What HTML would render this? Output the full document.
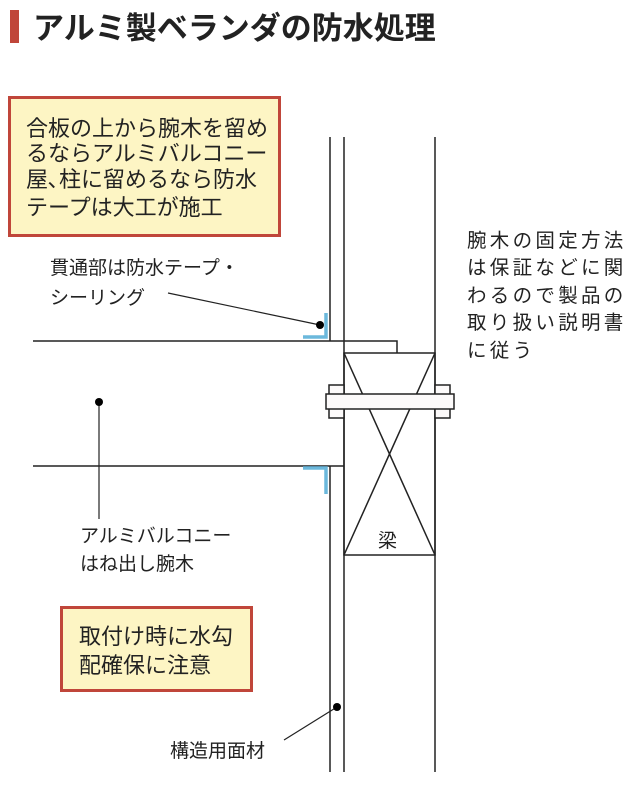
<!DOCTYPE html>
<html><head><meta charset="utf-8"><style>
body{margin:0;background:#fff;}
svg text{font-family:"Liberation Sans","Noto Sans CJK JP",sans-serif;fill:#222;}
</style></head><body>
<svg width="640" height="781" viewBox="0 0 640 781" xmlns="http://www.w3.org/2000/svg">
<rect x="10" y="10" width="9" height="33" fill="#c0463a"/>
<text x="33" y="39" font-size="31" font-weight="bold" fill="#222">アルミ製ベランダの防水処理</text>

<rect x="9.5" y="97.5" width="270" height="138" fill="#fdf5c4" stroke="#c0463a" stroke-width="3"/>
<g font-size="22">
<text x="26" y="136">合板の上から腕木を留め</text>
<text x="26" y="161">るならアルミバルコニー</text>
<text x="26" y="187">屋､柱に留めるなら防水</text>
<text x="26" y="215">テープは大工が施工</text>
</g>

<g stroke="#222" stroke-width="1.5" fill="none">
<line x1="330" y1="137" x2="330" y2="341"/>
<line x1="330" y1="466" x2="330" y2="772"/>
<line x1="344" y1="137" x2="344" y2="772"/>
<line x1="435" y1="137" x2="435" y2="772"/>
<polyline points="33,341 397,341 397,353"/>
<line x1="33" y1="466" x2="344" y2="466"/>
<rect x="344" y="353" width="91" height="202"/>
<line x1="344" y1="353" x2="435" y2="555"/>
<line x1="435" y1="353" x2="344" y2="555"/>
</g>
<g stroke="#222" stroke-width="1.5" fill="#fcfafa">
<rect x="329" y="385" width="15" height="33"/>
<rect x="435" y="385" width="15" height="33"/>
<rect x="326" y="394" width="128" height="15"/>
</g>
<text x="378" y="547" font-size="19">梁</text>

<g stroke="#6bb8dc" stroke-width="3.5" fill="none">
<polyline points="303,337 326,337 326,313"/>
<polyline points="303,468 326,468 326,494"/>
</g>

<g stroke="#222" stroke-width="1.2">
<line x1="168" y1="293" x2="320" y2="325"/>
<line x1="99" y1="402" x2="99" y2="519"/>
<line x1="284" y1="740" x2="337" y2="707"/>
</g>
<circle cx="320" cy="325" r="4" fill="#000"/>
<circle cx="99" cy="402" r="4" fill="#000"/>
<circle cx="337" cy="707" r="4" fill="#000"/>

<g font-size="19">
<text x="50" y="274">貫通部は防水テープ・</text>
<text x="50" y="304">シーリング</text>
<text x="80" y="542">アルミバルコニー</text>
<text x="80" y="570">はね出し腕木</text>
<text x="170" y="757">構造用面材</text>
</g>
<g font-size="19.5" letter-spacing="3.3">
<text x="467" y="247">腕木の固定方法</text>
<text x="467" y="274">は保証などに関</text>
<text x="467" y="302">わるので製品の</text>
<text x="467" y="329">取り扱い説明書</text>
<text x="467" y="357">に従う</text>
</g>

<rect x="61.5" y="607.5" width="190" height="83" fill="#fdf5c4" stroke="#c0463a" stroke-width="3"/>
<g font-size="22">
<text x="79" y="644">取付け時に水勾</text>
<text x="79" y="673">配確保に注意</text>
</g>
</svg>
</body></html>
